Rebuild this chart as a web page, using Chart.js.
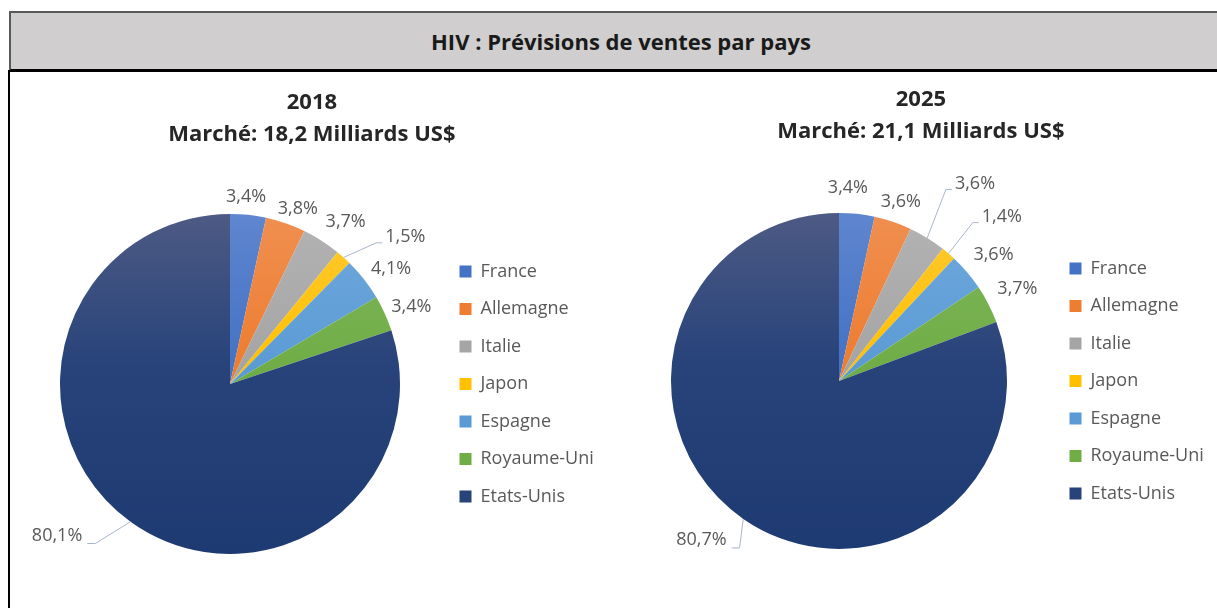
<!DOCTYPE html>
<html>
<head>
<meta charset="utf-8">
<script src="https://cdn.jsdelivr.net/npm/chart.js@4.4.1/dist/chart.umd.min.js"></script>
<style>
  html, body { margin: 0; padding: 0; background: #fff; overflow: hidden; width: 1217px; height: 608px; }
  #header {
    position: absolute; left: 9px; top: 11px; width: 1220px; height: 56px;
    background: #d0cece; border-top: 2px solid #595959; border-left: 2px solid #595959;
    border-bottom: 3px solid #000;
    font: bold 22px "Open Sans", sans-serif; color: #1a1a1a;
    display: flex; align-items: center; justify-content: center;
  }
  #leftLine { position: absolute; left: 8px; top: 70px; width: 2px; height: 540px; background: #000; }
  canvas { position: absolute; }
</style>
</head>
<body>
<div id="header">HIV : Prévisions de ventes par pays</div>
<div id="leftLine"></div>
<canvas id="chart2018" width="612" height="534" style="left:12px;top:74px"></canvas>
<canvas id="chart2025" width="600" height="537" style="left:625px;top:71px"></canvas>
<script>
// values (% of the market)
const countries = ['France', 'Allemagne', 'Italie', 'Japon', 'Espagne', 'Royaume-Uni', 'Etats-Unis'];
const share2018 = [3.4, 3.8, 3.7, 1.5, 4.1, 3.4, 80.1];
const share2025 = [3.4, 3.6, 3.6, 1.4, 3.6, 3.7, 80.7];
const title2018 = ['2018', 'Marché: 18,2 Milliards US$'];
const title2025 = ['2025', 'Marché: 21,1 Milliards US$'];

// slice colours (light top of the gradient, base, dark bottom)
const baseColors = ['#4472c4', '#ed7d31', '#a5a5a5', '#ffc000', '#5b9bd5', '#70ad47', '#27437a'];
const topColors = ['#5f86cf', '#f08f50', '#b3b3b3', '#ffc933', '#70a9dc', '#7fb75a', '#4d5a84'];
const bottomColors = ['#3a65b4', '#dd6f25', '#979797', '#efb200', '#4f8dc6', '#63a03c', '#1e3a72'];

// nudges of the outside labels, in px, and which ones get a leader line
const shift2018 = [[-5, -1], [3, 2], [9, -4], [43, -8], [5, 0], [1, 0], [-54, 0]];
const shift2025 = [[-12, -9], [-1, -4], [33, -40], [35, -24], [5, -6], [4, -8], [-23, 7]];
const leaders2018 = [3, 6];
const leaders2025 = [2, 3, 6];

Chart.defaults.font.family = "'Open Sans', sans-serif";

function sliceFill(c) {
  const i = c.dataIndex;
  const chart = c.chart;
  const area = chart.chartArea;
  if (!area) return baseColors[i];
  const r = c.dataset.radius;
  const cy = (area.top + area.bottom) / 2;
  const g = chart.ctx.createLinearGradient(0, cy - r, 0, cy + r);
  g.addColorStop(0, topColors[i]);
  g.addColorStop(0.45, baseColors[i]);
  g.addColorStop(1, bottomColors[i]);
  return g;
}

function outsideLabels(shift, leaders) {
  return {
    id: 'outsideLabels',
    afterDatasetsDraw(chart) {
      const ctx = chart.ctx;
      const meta = chart.getDatasetMeta(0);
      const values = chart.data.datasets[0].data;
      ctx.save();
      ctx.font = "18px 'Open Sans', sans-serif";
      ctx.textAlign = 'center';
      ctx.textBaseline = 'middle';
      meta.data.forEach((arc, i) => {
        const p = arc.getProps(['x', 'y', 'startAngle', 'endAngle', 'outerRadius'], true);
        const a = (p.startAngle + p.endAngle) / 2;
        const dx = Math.cos(a), dy = Math.sin(a);
        const text = values[i].toFixed(1).replace('.', ',') + '%';
        const w = ctx.measureText(text).width, h = 18;
        const R = p.outerRadius + 8;
        const lx = p.x + dx * (R + w / 2) + shift[i][0];
        const ly = p.y + dy * (R + h / 2) + shift[i][1];
        if (leaders.includes(i)) {
          ctx.strokeStyle = '#a9b6ca';
          ctx.lineWidth = 1;
          ctx.beginPath();
          ctx.moveTo(p.x + dx * p.outerRadius, p.y + dy * p.outerRadius);
          if (lx > p.x) {
            const left = lx - w / 2;
            ctx.lineTo(left - 9, ly + 6);
            ctx.lineTo(left - 3, ly + 6);
          } else {
            const right = lx + w / 2;
            ctx.lineTo(right + 13, ly + 8);
            ctx.lineTo(right + 5, ly + 8);
          }
          ctx.stroke();
        }
        ctx.fillStyle = '#595959';
        ctx.fillText(text, lx, ly);
      });
      ctx.restore();
    }
  };
}

function makePie(id, values, titleLines, radius, shift, leaders, padBottom) {
  return new Chart(document.getElementById(id), {
    type: 'pie',
    data: {
      labels: countries,
      datasets: [{
        data: values,
        radius: radius,
        backgroundColor: sliceFill,
        borderWidth: 0
      }]
    },
    options: {
      responsive: false,
      animation: false,
      devicePixelRatio: 1,
      layout: { padding: { left: 0, right: 0, top: 0, bottom: padBottom } },
      plugins: {
        tooltip: { enabled: false },
        title: {
          display: true,
          text: titleLines,
          color: '#262626',
          font: { size: 22, weight: 'bold', lineHeight: 1.45 },
          padding: { top: 13, bottom: 10 }
        },
        legend: {
          position: 'right',
          fullSize: false,
          labels: {
            boxWidth: 12,
            boxHeight: 12,
            padding: 19.5,
            color: '#595959',
            font: { size: 18 },
            generateLabels: (chart) => {
              const items = Chart.overrides.doughnut.plugins.legend.labels.generateLabels(chart);
              items.forEach((it, i) => {
                it.fillStyle = baseColors[i];
                it.strokeStyle = baseColors[i];
                it.lineWidth = 0;
              });
              return items;
            }
          }
        }
      }
    },
    plugins: [outsideLabels(shift, leaders)]
  });
}

// place pie centre and legend where they sit in the picture (canvas coordinates)
function place(chart, pieX, legendLeft) {
  const lw = chart.legend.width;
  chart.options.layout.padding.left = 2 * pieX - legendLeft;
  chart.options.layout.padding.right = chart.width - legendLeft - lw;
  chart.update();
}

const pie2018 = makePie('chart2018', share2018, title2018, 170, shift2018, leaders2018, 1);
const pie2025 = makePie('chart2025', share2025, title2025, 168, shift2025, leaders2025, 4);
place(pie2018, 218, 428);
place(pie2025, 214, 425);
</script>
</body>
</html>
